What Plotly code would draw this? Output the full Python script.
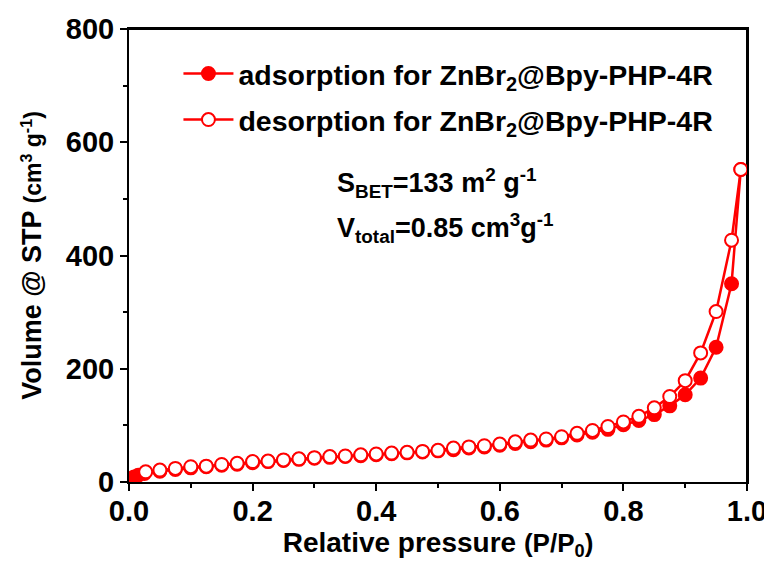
import plotly.graph_objects as go

# ---- data ----
ads_x = [0.008, 0.015, 0.025, 0.05, 0.075, 0.1, 0.125, 0.15, 0.175, 0.2, 0.225, 0.25,
         0.275, 0.3, 0.325, 0.35, 0.375, 0.4, 0.425, 0.45, 0.475, 0.5, 0.525, 0.55,
         0.575, 0.6, 0.625, 0.65, 0.675, 0.7, 0.725, 0.75, 0.775, 0.8, 0.825, 0.85,
         0.875, 0.9, 0.925, 0.95, 0.975, 0.99]
ads_y = [9, 12, 15, 19, 22, 25, 27, 29.5, 31.5, 34, 36, 38,
         40, 42, 43.5, 45, 46.5, 48, 50, 51.5, 53, 55, 57, 60,
         62, 65, 68, 71, 74, 78, 83, 88, 93, 101, 108.5, 119,
         134.5, 154, 183.5, 238, 350, 552]

des_x = [0.99, 0.975, 0.95, 0.925, 0.9, 0.875, 0.85, 0.825, 0.8, 0.775, 0.75, 0.725,
         0.7, 0.675, 0.65, 0.625, 0.6, 0.575, 0.55, 0.525, 0.5, 0.475, 0.45, 0.425,
         0.4, 0.375, 0.35, 0.325, 0.3, 0.275, 0.25, 0.225, 0.2, 0.175, 0.15, 0.125,
         0.1, 0.075, 0.05, 0.027]
des_y = [552, 427, 301, 228, 179, 151, 131, 116, 106, 98, 91, 86,
         80, 76, 74, 71, 67, 64, 62, 60, 56, 54, 52.5, 51,
         49.5, 48, 46, 45, 43, 41, 39, 37, 36, 33, 31, 28,
         27, 24, 21, 18]

x_ticks = [0.0, 0.2, 0.4, 0.6, 0.8, 1.0]
x_tick_labels = ["0.0", "0.2", "0.4", "0.6", "0.8", "1.0"]
y_ticks = [0, 200, 400, 600, 800]
y_tick_labels = ["0", "200", "400", "600", "800"]
x_range = [0, 1.0]
y_range = [0, 800]

RED = "#ff0000"
FONT = "Liberation Sans"

fig = go.Figure()
# top and right edges of the frame, drawn along the axis range limits
fig.add_trace(go.Scatter(
    x=[x_range[0], x_range[1], x_range[1]], y=[y_range[1], y_range[1], y_range[0]],
    mode="lines", line=dict(color="black", width=2), showlegend=False,
    hoverinfo="skip", cliponaxis=False,
))
fig.add_trace(go.Scatter(
    x=ads_x, y=ads_y, mode="lines+markers",
    name="adsorption for ZnBr<sub>2</sub>@Bpy-PHP-4R", legendgroup="a",
    line=dict(color=RED, width=2.5),
    marker=dict(symbol="circle", size=13, color=RED, line=dict(color=RED, width=2)),
))
fig.add_trace(go.Scatter(
    x=des_x, y=des_y, mode="lines+markers",
    name="desorption for ZnBr<sub>2</sub>@Bpy-PHP-4R", legendgroup="d",
    line=dict(color=RED, width=2.5),
    marker=dict(symbol="circle", size=13, color="white", line=dict(color=RED, width=2)),
))

tickfont = dict(family=FONT, size=29, color="black", weight="bold")
legfont = dict(family=FONT, size=28.5, color="black", weight="bold")
titlefont = dict(family=FONT, size=28, color="black", weight="bold")
annfont = dict(family=FONT, size=27, color="black", weight="bold")

fig.update_layout(
    width=772, height=563,
    margin=dict(l=121, r=33, t=21, b=89, autoexpand=False),
    paper_bgcolor="white", plot_bgcolor="white",
    font=dict(family=FONT, color="black"),
    showlegend=True,
    legend=dict(
        x=0.080, y=0.957, xanchor="left", yanchor="top",
        bgcolor="rgba(0,0,0,0)", borderwidth=0,
        font=legfont,
        itemwidth=50, tracegroupgap=6,
    ),
    xaxis=dict(
        range=x_range, tickvals=x_ticks, ticktext=x_tick_labels, automargin=False,
        showgrid=False, zeroline=False,
        showline=True, linecolor="black", linewidth=2, mirror=True,
        ticks="outside", ticklen=7, tickwidth=2, tickcolor="black", ticklabelstandoff=-5,
        minor=dict(ticks="outside", ticklen=4, tickwidth=2, tickcolor="black", dtick=0.1, tick0=0),
        tickfont=tickfont,
        title=dict(text="Relative pressure <span style='font-size:26px'>(P/P<sub>0</sub>)</span>",
                   font=titlefont, standoff=0),
    ),
    yaxis=dict(
        range=y_range, tickvals=y_ticks, ticktext=y_tick_labels, automargin=False,
        showgrid=False, zeroline=False,
        showline=True, linecolor="black", linewidth=2, mirror=True,
        ticks="outside", ticklen=7, tickwidth=2, tickcolor="black",
        minor=dict(ticks="outside", ticklen=4, tickwidth=2, tickcolor="black", dtick=100, tick0=0),
        tickfont=tickfont,
        title=dict(text="Volume @ STP <span style='font-size:23px'>(cm<sup>3</sup> g<sup>-1</sup>)</span>",
                   font=dict(family=FONT, size=27, color="black", weight="bold"), standoff=16),
    ),
    annotations=[
        dict(xref="paper", yref="paper", x=0.333, y=0.661, xanchor="left", yanchor="middle",
             showarrow=False,
             text="S<sub>BET</sub>=133 m<sup>2</sup> g<sup>-1</sup>", font=annfont),
        dict(xref="paper", yref="paper", x=0.333, y=0.560, xanchor="left", yanchor="middle",
             showarrow=False,
             text="V<sub>total</sub>=0.85 cm<sup>3</sup>g<sup>-1</sup>", font=annfont),
    ],
)

fig.write_html("out.html")
